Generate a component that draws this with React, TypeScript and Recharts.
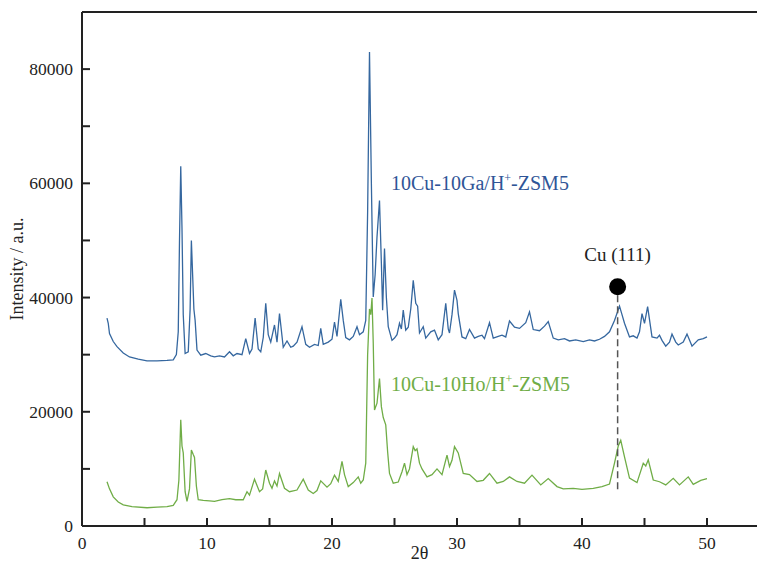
import { LineChart, Line, XAxis, YAxis, ReferenceLine, ReferenceDot } from "recharts";

// XRD patterns, 2θ vs intensity
const GA_THETA = [
  2.0, 2.1, 2.2, 2.5, 2.8, 3.3, 3.8, 4.5, 5.2, 6.0, 6.8, 7.3, 7.55, 7.7, 7.8, 7.9, 8.0, 8.1, 8.25, 8.5,
  8.65, 8.75, 8.85, 8.95, 9.05, 9.2, 9.5, 9.9, 10.3, 10.6, 11.0, 11.4, 11.8, 12.1, 12.4, 12.8, 13.1, 13.4, 13.6, 13.85,
  14.1, 14.3, 14.5, 14.7, 14.9, 15.1, 15.4, 15.6, 15.8, 16.1, 16.4, 16.7, 16.9, 17.2, 17.6, 17.9, 18.2, 18.6, 18.9, 19.1,
  19.3, 19.7, 20.0, 20.2, 20.4, 20.7, 20.9, 21.1, 21.4, 21.7, 22.0, 22.2, 22.5, 22.7, 22.85, 23.0, 23.15, 23.3, 23.45, 23.6,
  23.8, 23.95, 24.05, 24.2, 24.35, 24.5, 24.8, 25.0, 25.2, 25.4, 25.55, 25.7, 25.9, 26.1, 26.3, 26.5, 26.7, 26.85, 27.0, 27.3,
  27.5, 27.9, 28.2, 28.5, 28.8, 29.1, 29.3, 29.4, 29.6, 29.8, 30.0, 30.1, 30.4, 30.7, 31.0, 31.4, 31.7, 32.0, 32.2, 32.6,
  32.9, 33.3, 33.6, 33.9, 34.2, 34.6, 35.0, 35.5, 35.8, 36.1, 36.6, 37.0, 37.3, 37.7, 38.1, 38.6, 39.0, 39.5, 40.1, 40.6,
  41.0, 41.4, 41.8, 42.2, 42.6, 43.0, 43.2, 43.4, 43.8, 44.1, 44.4, 44.6, 44.8, 45.0, 45.25, 45.6, 46.0, 46.2, 46.4, 46.7,
  47.0, 47.2, 47.5, 47.7, 48.1, 48.4, 48.8, 49.3, 49.7, 50.0,
];
const GA_INTENSITY = [
  36400, 35500, 33700, 32300, 31400, 30300, 29600, 29200, 28900, 28900, 29000, 29100, 30000, 34000, 50000, 63000, 52000, 37000, 30200, 30500,
  38000, 50000, 44000, 38000, 36000, 30800, 29900, 30200, 29800, 29600, 29800, 29600, 30500, 29800, 30200, 30000, 32800, 30200, 31000, 36400,
  31000, 30500, 33000, 39000, 33500, 32200, 35200, 32200, 37200, 31300, 32400, 31300, 31500, 32200, 34900, 31800, 31300, 31800, 31600, 34600,
  31800, 32200, 32700, 35700, 33200, 39700, 36000, 33000, 32600, 33200, 34900, 33500, 34000, 36000, 55000, 83000, 60000, 40100, 44000, 50600,
  57000, 46000, 37800, 48600, 40000, 34900, 32500, 32900, 33500, 35500, 34500, 37800, 34300, 34800, 38000, 43000, 39000, 38500, 33800, 34900,
  32900, 34000, 34300, 32600, 33500, 39000, 34500, 33800, 37000, 41300, 39500, 37200, 33100, 32800, 34400, 32900, 33200, 33400, 32800, 35600,
  32900, 33200, 33400, 33100, 35900, 34800, 34600, 35600, 37500, 34400, 34200, 35000, 35800, 32900, 32600, 32800, 32400, 32600, 32300, 32600,
  32400, 32700, 33200, 34000, 36000, 38500, 37000, 35500, 33100, 33300, 32900, 34000, 37200, 35500, 38400, 33100, 32900, 33400, 32500, 31500,
  32200, 33600, 32200, 31700, 32200, 33600, 31500, 32600, 32800, 33100,
];

const HO_THETA = [
  2.0, 2.2, 2.5, 2.9, 3.3, 4.0, 5.2, 6.0, 6.8, 7.3, 7.6, 7.75, 7.9, 8.0, 8.1, 8.25, 8.4, 8.6, 8.75, 8.9,
  9.0, 9.15, 9.3, 9.7, 10.2, 10.6, 11.2, 11.8, 12.3, 12.9, 13.2, 13.4, 13.8, 14.2, 14.45, 14.7, 15.0, 15.2, 15.4, 15.6,
  15.8, 16.2, 16.6, 17.2, 17.7, 18.1, 18.5, 18.8, 19.1, 19.6, 19.9, 20.2, 20.5, 20.8, 21.0, 21.3, 21.7, 22.1, 22.3, 22.5,
  22.7, 22.85, 23.0, 23.1, 23.2, 23.3, 23.4, 23.6, 23.8, 23.95, 24.1, 24.3, 24.45, 24.6, 24.9, 25.3, 25.6, 25.8, 26.0, 26.2,
  26.5, 26.65, 26.8, 27.0, 27.2, 27.6, 28.0, 28.4, 28.8, 29.2, 29.4, 29.6, 29.8, 30.1, 30.5, 31.0, 31.6, 32.1, 32.6, 33.2,
  33.7, 34.2, 34.8, 35.4, 36.0, 36.7, 37.3, 38.0, 38.5, 39.3, 40.0, 40.9, 41.6, 42.2, 42.6, 42.9, 43.1, 43.4, 43.8, 44.4,
  44.9, 45.1, 45.3, 45.7, 46.2, 46.7, 47.3, 47.8, 48.5, 48.9, 49.5, 50.0,
];
const HO_INTENSITY = [
  7750, 6500, 5100, 4200, 3700, 3400, 3200, 3300, 3400, 3600, 4600, 8000, 18600, 14000, 12800, 6000, 4300, 6500, 13300, 12500,
  12000, 7000, 4600, 4500, 4400, 4300, 4600, 4800, 4600, 4600, 6000, 5400, 8200, 6000, 6500, 9800, 7500, 6600, 7900, 7000,
  9200, 6600, 6000, 6300, 8200, 6300, 5700, 6200, 7900, 6800, 7400, 8900, 7800, 11300, 9000, 6900, 7600, 8600, 7500, 8050,
  11000, 30000, 38000, 37000, 39900, 32000, 20300, 21500, 25800, 20900, 19000, 17700, 13000, 9200, 7500, 7700, 9500, 11000, 9000, 10000,
  13900, 13200, 13500, 11000, 10000, 8600, 9000, 10000, 9000, 12400, 10400, 11500, 13900, 12800, 9200, 9000, 7800, 8000, 9200, 7500,
  7800, 8600, 7800, 7500, 8900, 7200, 8300, 6900, 6500, 6600, 6400, 6600, 6900, 7350, 11000, 14000, 15000, 12100, 8400, 7600,
  11000, 10500, 11600, 8050, 7750, 7200, 8350, 7200, 8600, 7300, 8000, 8300,
];

const X_TICKS = [0, 5, 10, 15, 20, 25, 30, 35, 40, 45, 50];
const Y_TICKS = [0, 10000, 20000, 30000, 40000, 50000, 60000, 70000, 80000];

const CU_THETA = 42.85;
const CU_DOT = 41900;
const CU_LINE = [40400, 5800];

const BLUE = "#35679f";
const BLUE_TEXT = "#2f5597";
const GREEN = "#70ad47";
const AXIS = "#222";
const FONT = "'Liberation Serif', 'Times New Roman', serif";

const gaData = GA_THETA.map((x, i) => ({ x, y: GA_INTENSITY[i] }));
const hoData = HO_THETA.map((x, i) => ({ x, y: HO_INTENSITY[i] }));

function YTick({ x, y, payload }: any) {
  const major = payload.value % 20000 === 0;
  return (
    <g>
      <line x1={x} x2={x + 8} y1={y} y2={y} stroke={AXIS} strokeWidth={2} />
      {major && (
        <text x={x - 9} y={y} dy={6} textAnchor="end" fill="#222" fontSize={17.5} fontFamily={FONT}>
          {payload.value}
        </text>
      )}
    </g>
  );
}

function XTick({ x, y, payload }: any) {
  const major = payload.value % 10 === 0;
  return (
    <g>
      <line x1={x} x2={x} y1={y} y2={y - 8} stroke={AXIS} strokeWidth={2} />
      {major && (
        <text x={x} y={y + 23} textAnchor="middle" fill="#222" fontSize={17.5} fontFamily={FONT}>
          {payload.value}
        </text>
      )}
    </g>
  );
}

function seriesLabel(name: string, rest: string, color: string) {
  return ({ viewBox }: any) => (
    <text x={viewBox.x} y={viewBox.y + 7} fill={color} fontSize={20} fontFamily={FONT}>
      {name}
      <tspan fontSize={12} dy={-8}>+</tspan>
      <tspan dy={8}>{rest}</tspan>
    </text>
  );
}

export default function App() {
  return (
    <div style={{ position: "absolute", left: 0, top: 0, background: "#fff" }}>
      <LineChart width={759} height={571} margin={{ top: 12, right: 2, bottom: 0, left: 0 }}>
        <XAxis
          type="number"
          dataKey="x"
          domain={[0, 54]}
          ticks={X_TICKS}
          allowDataOverflow
          stroke={AXIS}
          strokeWidth={2}
          tickSize={0}
          tickMargin={0}
          tick={<XTick />}
          height={45}
          label={{ value: "2θ", position: "insideBottom", offset: 12, fill: "#222", fontSize: 18, fontFamily: FONT }}
        />
        <YAxis
          type="number"
          dataKey="y"
          domain={[0, 90000]}
          ticks={Y_TICKS}
          allowDataOverflow
          stroke={AXIS}
          strokeWidth={2}
          tickSize={0}
          tickMargin={0}
          tick={<YTick />}
          width={82}
          label={{
            value: "Intensity / a.u.",
            angle: -90,
            position: "insideLeft",
            offset: 17,
            style: { textAnchor: "middle" },
            fill: "#222",
            fontSize: 18,
            fontFamily: FONT,
          }}
        />
        <ReferenceLine y={90000} stroke={AXIS} strokeWidth={2} />
        <Line data={gaData} dataKey="y" type="linear" stroke={BLUE} strokeWidth={1.3} dot={false} isAnimationActive={false} />
        <Line data={hoData} dataKey="y" type="linear" stroke={GREEN} strokeWidth={1.3} dot={false} isAnimationActive={false} />
        <ReferenceLine
          segment={[{ x: CU_THETA, y: CU_LINE[0] }, { x: CU_THETA, y: CU_LINE[1] }]}
          stroke="#555"
          strokeWidth={1.5}
          strokeDasharray="7 4"
        />
        <ReferenceDot x={CU_THETA} y={CU_DOT} r={8.5} fill="#000" stroke="none" />
        <ReferenceDot
          x={CU_THETA}
          y={47500}
          r={1}
          fill="none"
          stroke="none"
          label={{
            content: ({ viewBox }: any) => (
              <text x={viewBox.x + viewBox.width / 2} y={viewBox.y + 7} textAnchor="middle" fill="#222" fontSize={19} fontFamily={FONT}>
                Cu (111)
              </text>
            ),
          }}
        />
        <ReferenceDot x={24.8} y={59900} r={1} fill="none" stroke="none" label={{ content: seriesLabel("10Cu-10Ga/H", "-ZSM5", BLUE_TEXT) }} />
        <ReferenceDot x={24.8} y={24700} r={1} fill="none" stroke="none" label={{ content: seriesLabel("10Cu-10Ho/H", "-ZSM5", GREEN) }} />
      </LineChart>
    </div>
  );
}
